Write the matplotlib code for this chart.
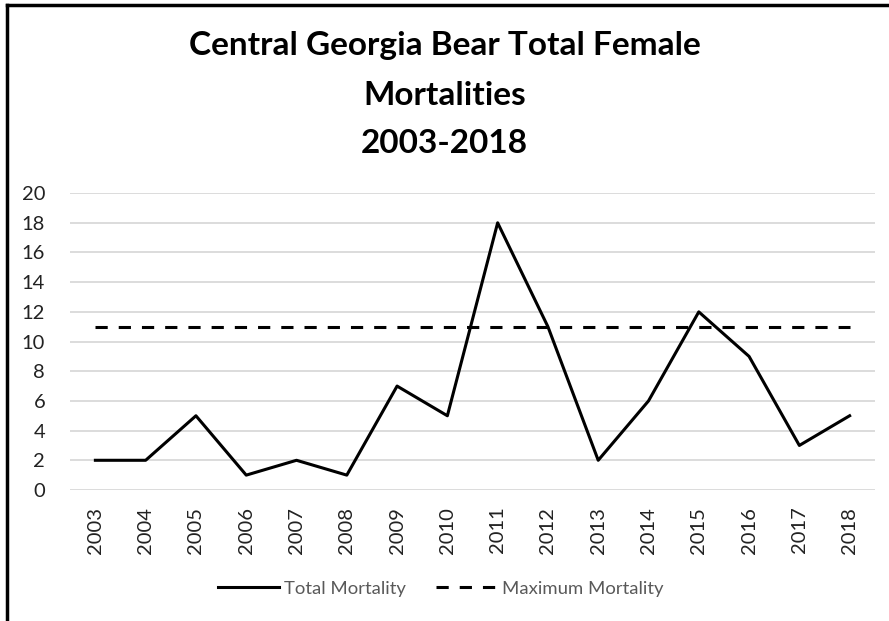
import numpy as np
import matplotlib
matplotlib.use("Agg")
import matplotlib.pyplot as plt
from matplotlib.lines import Line2D

plt.rcParams['font.family'] = ['Lato', 'DejaVu Sans']

years = ['2003', '2004', '2005', '2006', '2007', '2008', '2009', '2010',
         '2011', '2012', '2013', '2014', '2015', '2016', '2017', '2018']
total_mortality = [2, 2, 5, 1, 2, 1, 7, 5, 18, 11, 2, 6, 12, 9, 3, 5]
max_mortality = [11] * len(years)

fig = plt.figure(figsize=(8.89, 6.21), dpi=100)
ax = fig.add_axes([0.079, 0.211, 0.905, 0.478])

x = np.arange(len(years))
ax.plot(x, total_mortality, color='black', lw=2.2, label='Total Mortality')
ax.plot(x, max_mortality, color='black', lw=2.2, ls=(0, (4, 3.6)), label='Maximum Mortality')

ax.set_xlim(-0.5, len(years) - 0.5)
ax.set_ylim(0, 20)
ax.set_yticks(range(0, 21, 2))
ax.set_xticks(x)
ax.set_xticklabels(years, rotation=90)
ax.tick_params(axis='both', length=0, labelsize=14.5, colors='#222222')
ax.tick_params(axis='y', pad=18)
ax.tick_params(axis='x', pad=12)
ax.grid(axis='y', color='#d9d9d9', lw=1.3)
ax.set_axisbelow(True)
for s in ax.spines.values():
    s.set_visible(False)

fig.text(0.5, 0.927, 'Central Georgia Bear Total Female', ha='center', va='center',
         fontsize=24, fontweight='bold')
fig.text(0.5, 0.847, 'Mortalities', ha='center', va='center', fontsize=24, fontweight='bold')
fig.text(0.5, 0.769, '2003-2018', ha='center', va='center', fontsize=24, fontweight='bold')

leg = fig.legend(loc='center', bbox_to_anchor=(0.496, 0.052), ncol=2, frameon=False,
                 fontsize=13.3, handlelength=3.3, handletextpad=0.3, columnspacing=1.6)
for t in leg.get_texts():
    t.set_color('#595959')

# frame on left and top
fig.add_artist(Line2D([0.008, 0.008], [0, 0.992], color='black', lw=2.5))
fig.add_artist(Line2D([0.008, 1.0], [0.992, 0.992], color='black', lw=2.5))

fig.savefig('out.png', dpi=100)
